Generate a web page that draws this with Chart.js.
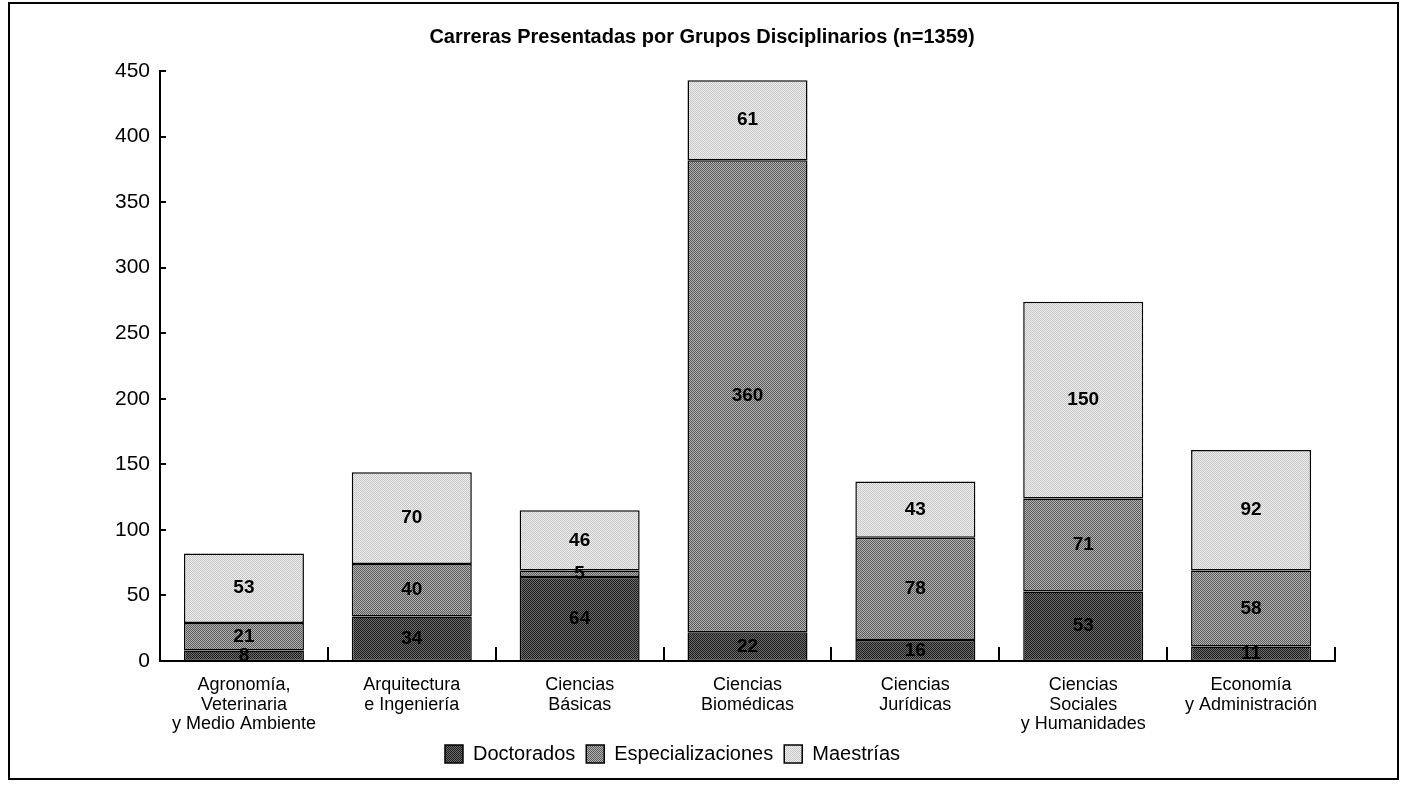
<!DOCTYPE html>
<html>
<head>
<meta charset="utf-8">
<script src="https://cdn.jsdelivr.net/npm/chart.js@4.4.1/dist/chart.umd.min.js"></script>
<style>
    html, body { margin: 0; padding: 0; background: #fff; }
    #wrap { width: 1404px; height: 788px; position: relative; }
</style>
</head>
<body>
<div id="wrap"><canvas id="chart-carreras"></canvas></div>
<script>
// Datos
const titulo = 'Carreras Presentadas por Grupos Disciplinarios (n=1359)';
const categorias = [
    ['Agronomía,', 'Veterinaria', 'y Medio Ambiente'],
    ['Arquitectura', 'e Ingeniería'],
    ['Ciencias', 'Básicas'],
    ['Ciencias', 'Biomédicas'],
    ['Ciencias', 'Jurídicas'],
    ['Ciencias', 'Sociales', 'y Humanidades'],
    ['Economía', 'y Administración']
];
const doctorados = [8, 34, 64, 22, 16, 53, 11];
const especializaciones = [21, 40, 5, 360, 78, 71, 58];
const maestrias = [53, 70, 46, 61, 43, 150, 92];
const ticksY = [0, 50, 100, 150, 200, 250, 300, 350, 400, 450];

const FUENTE = '"Liberation Sans", Arial, sans-serif';

// Trama punteada tipo fotocopia
function crearTrama(c1, c2) {
    const cv = document.createElement('canvas');
    cv.width = 4;
    cv.height = 4;
    const g = cv.getContext('2d');
    for (let y = 0; y < 4; y++) {
        for (let x = 0; x < 4; x++) {
            g.fillStyle = (x + y) % 2 === 0 ? c1 : c2;
            g.fillRect(x, y, 1, 1);
        }
    }
    return g.createPattern(cv, 'repeat');
}

const tramaDoc = crearTrama('#1e1e1e', '#6a6a6a');
const tramaEsp = crearTrama('#5a5a5a', '#b2b2b2');
const tramaMae = crearTrama('#c4c4c4', '#f0f0f0');

// Etiquetas de valores, marcas y marco
const extras = {
    id: 'extras',
    afterDatasetsDraw(chart) {
        const ctx = chart.ctx;
        ctx.save();
        ctx.font = 'bold 19px ' + FUENTE;
        ctx.fillStyle = '#000';
        ctx.textAlign = 'center';
        ctx.textBaseline = 'middle';
        chart.data.datasets.forEach((ds, i) => {
            chart.getDatasetMeta(i).data.forEach((bar, j) => {
                const p = bar.getProps(['x', 'y', 'base'], true);
                ctx.fillText(String(ds.data[j]), p.x, (p.y + p.base) / 2);
            });
        });
        ctx.restore();
    },
    afterDraw(chart) {
        const ctx = chart.ctx;
        const x = chart.scales.x;
        const y = chart.scales.y;
        const area = chart.chartArea;
        ctx.save();
        ctx.strokeStyle = '#000';
        ctx.lineWidth = 2;
        // marcas hacia arriba entre categorías
        const paso = x.getPixelForValue(1) - x.getPixelForValue(0);
        for (let i = 0; i < categorias.length; i++) {
            const px = Math.round(x.getPixelForValue(i) + paso / 2);
            ctx.beginPath();
            ctx.moveTo(px, area.bottom);
            ctx.lineTo(px, area.bottom - 14);
            ctx.stroke();
        }
        // marcas del eje Y
        ticksY.forEach(v => {
            const py = Math.round(y.getPixelForValue(v));
            ctx.beginPath();
            ctx.moveTo(area.left, py);
            ctx.lineTo(area.left + 6, py);
            ctx.stroke();
        });
        // título
        ctx.font = 'bold 20px ' + FUENTE;
        ctx.fillStyle = '#000';
        ctx.textAlign = 'center';
        ctx.textBaseline = 'middle';
        ctx.fillText(titulo, 702, 37);
        // marco
        ctx.strokeRect(9, 3, 1389, 776);
        ctx.restore();
    }
};

new Chart(document.getElementById('chart-carreras'), {
    type: 'bar',
    data: {
        labels: categorias,
        datasets: [
            { label: 'Doctorados', data: doctorados, backgroundColor: tramaDoc },
            { label: 'Especializaciones', data: especializaciones, backgroundColor: tramaEsp },
            { label: 'Maestrías', data: maestrias, backgroundColor: tramaMae }
        ].map(d => Object.assign(d, {
            borderColor: '#000',
            borderWidth: 1.5,
            borderSkipped: false,
            barPercentage: 0.715,
            categoryPercentage: 1
        }))
    },
    options: {
        responsive: true,
        maintainAspectRatio: false,
        animation: false,
        layout: {
            padding: { left: 10, top: 71, right: 69, bottom: 14 }
        },
        plugins: {
            legend: {
                position: 'bottom',
                labels: {
                    color: '#000',
                    font: { family: FUENTE, size: 20 },
                    boxWidth: 18,
                    boxHeight: 18,
                    padding: 11,
                    useBorderRadius: false
                }
            },
            tooltip: { enabled: false }
        },
        scales: {
            x: {
                stacked: true,
                grid: { display: false, drawTicks: false },
                border: { display: true, color: '#000', width: 2 },
                ticks: {
                    color: '#000',
                    font: { family: FUENTE, size: 18, lineHeight: 1.1 },
                    padding: 14,
                    maxRotation: 0,
                    autoSkip: false
                },
                afterFit(scale) { scale.height = 72; }
            },
            y: {
                stacked: true,
                min: 0,
                max: 450,
                grid: { display: false, drawTicks: false },
                border: { display: true, color: '#000', width: 2 },
                afterBuildTicks(scale) { scale.ticks = ticksY.map(v => ({ value: v })); },
                ticks: {
                    color: '#000',
                    font: { family: FUENTE, size: 21 },
                    padding: 10
                },
                afterFit(scale) { scale.width = 150; }
            }
        }
    },
    plugins: [extras]
});
</script>
</body>
</html>
